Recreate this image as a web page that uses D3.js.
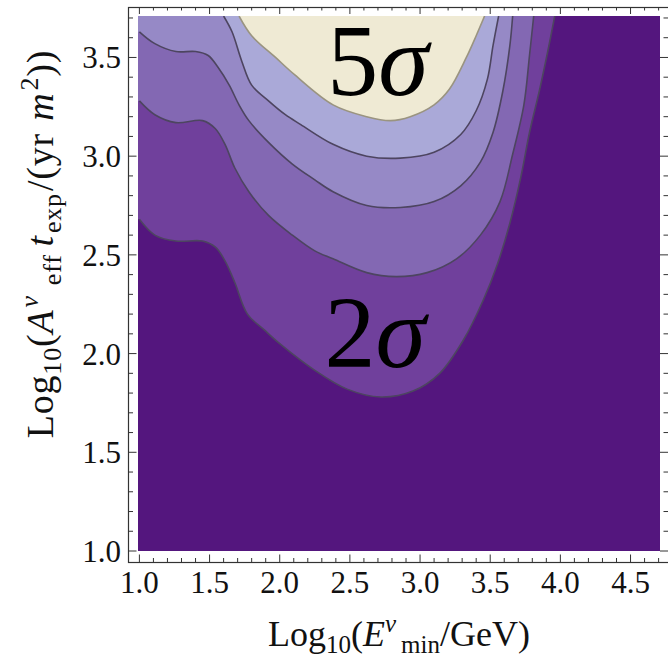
<!DOCTYPE html>
<html>
<head>
<meta charset="utf-8">
<script src="https://cdn.jsdelivr.net/npm/d3@7"></script>
<style>
body { margin: 0; background: #fff; }
svg { display: block; font-family: "Liberation Serif", "Times New Roman", serif; }
</style>
</head>
<body>
<svg width="668" height="658"></svg>
<script>
// contour boundaries, [log10 E, log10 A*t]
const contour1 = [[1.0,2.68],[1.11,2.60],[1.26,2.57],[1.45,2.57],[1.54,2.54],[1.61,2.47],[1.68,2.36],[1.77,2.20],[1.89,2.12],[2.0,2.05],[2.24,1.92],[2.48,1.82],[2.72,1.78],[2.95,1.81],[3.14,1.90],[3.31,2.07],[3.45,2.27],[3.55,2.45],[3.64,2.66],[3.72,2.90],[3.78,3.12],[3.85,3.33],[3.91,3.53],[3.96,3.71]];
const contour2 = [[1.0,3.28],[1.11,3.21],[1.26,3.17],[1.45,3.18],[1.54,3.14],[1.61,3.06],[1.68,2.94],[1.78,2.82],[1.92,2.70],[2.09,2.60],[2.25,2.52],[2.38,2.48],[2.62,2.41],[2.83,2.39],[3.05,2.41],[3.26,2.48],[3.43,2.60],[3.57,2.77],[3.66,3.01],[3.74,3.26],[3.78,3.51],[3.81,3.71]];
const contour3 = [[1.0,3.63],[1.11,3.57],[1.26,3.53],[1.40,3.53],[1.49,3.51],[1.56,3.45],[1.64,3.36],[1.71,3.26],[1.78,3.18],[1.92,3.07],[2.09,2.96],[2.25,2.88],[2.38,2.82],[2.62,2.75],[2.86,2.74],[3.10,2.77],[3.29,2.85],[3.43,2.97],[3.52,3.12],[3.59,3.33],[3.64,3.56],[3.66,3.71]];
const contour4 = [[1.60,3.71],[1.66,3.63],[1.73,3.48],[1.80,3.36],[1.92,3.28],[2.04,3.21],[2.15,3.16],[2.38,3.06],[2.62,3.00],[2.86,2.99],[3.10,3.02],[3.29,3.11],[3.40,3.23],[3.48,3.39],[3.52,3.56],[3.56,3.71]];
const contour5 = [[1.71,3.71],[1.80,3.61],[1.97,3.50],[2.11,3.41],[2.38,3.26],[2.62,3.20],[2.79,3.18],[2.93,3.20],[3.10,3.26],[3.21,3.34],[3.33,3.50],[3.40,3.61],[3.46,3.71]];

const contours = [contour1, contour2, contour3, contour4, contour5];
const bandColors = ["#54167e", "#70409c", "#8368b3", "#9689c6", "#aaa9d8", "#efead4"];
const lineColors = ["#4d4560", "#4d4560", "#4d4560", "#4d4560", "#9a9480"];

const xTicks = [1.0, 1.5, 2.0, 2.5, 3.0, 3.5, 4.0, 4.5];
const yTicks = [1.0, 1.5, 2.0, 2.5, 3.0, 3.5];
const sigmaLabels = [["5", 2.70, 3.31], ["2", 2.68, 1.93]];

var svg = d3.select("svg");

const x = d3.scaleLinear().domain([0.99, 4.71]).range([138, 660]);
const y = d3.scaleLinear().domain([1.0, 3.71]).range([551, 16]);
const fmt = d3.format(".1f");

const frame = { left: 128.5, right: 669, top: 7.5, bottom: 562.5 };

svg.append("clipPath").attr("id", "plot")
	.append("rect")
	.attr("x", x(0.99)).attr("y", y(3.71))
	.attr("width", x(4.71) - x(0.99)).attr("height", y(1.0) - y(3.71));

const g = svg.append("g").attr("clip-path", "url(#plot)");

g.append("rect")
	.attr("x", x(0.99)).attr("y", y(3.71))
	.attr("width", x(4.71) - x(0.99)).attr("height", y(1.0) - y(3.71))
	.attr("fill", bandColors[0]);

const line = d3.line()
	.x(d => x(d[0]))
	.y(d => y(d[1]))
	.curve(d3.curveCatmullRom.alpha(0.5));

// region above each contour, closed along the top (and left) edge
g.selectAll("path.band")
	.data(contours)
	.join("path")
	.attr("class", "band")
	.attr("fill", (d, i) => bandColors[i + 1])
	.attr("d", d => {
		let p = line(d);
		if (d[0][0] <= 1.0) p += "L" + x(0.99) + "," + y(3.71) + "L" + x(0.99) + "," + y(d[0][1]);
		return p + "Z";
	});

g.selectAll("path.contour")
	.data(contours)
	.join("path")
	.attr("class", "contour")
	.attr("fill", "none")
	.attr("stroke", (d, i) => lineColors[i])
	.attr("stroke-width", 1.6)
	.attr("d", line);

// frame with ticks on all four sides
svg.append("rect")
	.attr("x", frame.left).attr("y", frame.top)
	.attr("width", frame.right - frame.left).attr("height", frame.bottom - frame.top)
	.attr("fill", "none").attr("stroke", "#333").attr("stroke-width", 1.2);

const xMinor = d3.range(10, 48).map(v => v / 10);
const yMinor = d3.range(10, 38).map(v => v / 10);
const tickLen = v => (Math.round(v * 10) % 5 == 0 ? 8 : 4.5);

const ticks = svg.append("g").attr("stroke", "#333").attr("stroke-width", 1);

ticks.selectAll("line.xb").data(xMinor).join("line")
	.attr("x1", d => x(d)).attr("x2", d => x(d))
	.attr("y1", frame.bottom).attr("y2", d => frame.bottom - tickLen(d));
ticks.selectAll("line.xt").data(xMinor).join("line")
	.attr("x1", d => x(d)).attr("x2", d => x(d))
	.attr("y1", frame.top).attr("y2", d => frame.top + tickLen(d) - 1.5);
ticks.selectAll("line.yl").data(yMinor).join("line")
	.attr("y1", d => y(d)).attr("y2", d => y(d))
	.attr("x1", frame.left).attr("x2", d => frame.left + tickLen(d));
ticks.selectAll("line.yr").data(yMinor).join("line")
	.attr("y1", d => y(d)).attr("y2", d => y(d))
	.attr("x1", frame.right).attr("x2", d => frame.right - tickLen(d) - 1);

svg.append("g").selectAll("text").data(xTicks).join("text")
	.attr("x", d => x(d)).attr("y", 593)
	.attr("text-anchor", "middle")
	.attr("font-size", 31).attr("fill", "#111")
	.text(fmt);

svg.append("g").selectAll("text").data(yTicks).join("text")
	.attr("x", 121).attr("y", d => y(d) + 11)
	.attr("text-anchor", "end")
	.attr("font-size", 31).attr("fill", "#111")
	.text(fmt);

// axis titles
const xt = svg.append("text")
	.attr("x", 399).attr("y", 646)
	.attr("text-anchor", "middle").attr("font-size", 36).attr("fill", "#111");
xt.append("tspan").text("Log");
xt.append("tspan").attr("font-size", 25).attr("dy", 7).text("10");
xt.append("tspan").attr("dy", -7).text("(");
xt.append("tspan").attr("font-style", "italic").text("E");
xt.append("tspan").attr("font-style", "italic").attr("font-size", 25).attr("dy", -14).text("ν");
xt.append("tspan").attr("font-size", 25).attr("dy", 21).attr("dx", 5).text("min");
xt.append("tspan").attr("dy", -7).text("/GeV)");

const yt = svg.append("text")
	.attr("transform", "translate(53,244) rotate(-90)")
	.attr("text-anchor", "middle").attr("font-size", 38).attr("fill", "#111")
	.attr("letter-spacing", 0.8);
yt.append("tspan").text("Log");
yt.append("tspan").attr("font-size", 26).attr("dy", 8).text("10");
yt.append("tspan").attr("dy", -8).text("(");
yt.append("tspan").attr("font-style", "italic").text("A");
yt.append("tspan").attr("font-style", "italic").attr("font-size", 26).attr("dy", -15).attr("dx", 2).text("ν");
yt.append("tspan").attr("font-size", 26).attr("dy", 23).attr("dx", 10).text("eff");
yt.append("tspan").attr("font-style", "italic").attr("dy", -8).attr("dx", 8).text("t");
yt.append("tspan").attr("font-size", 26).attr("dy", 8).attr("dx", 2).text("exp");
yt.append("tspan").attr("dy", -8).attr("dx", 2).text("/(yr ");
yt.append("tspan").attr("font-style", "italic").attr("dx", 2).text("m");
yt.append("tspan").attr("font-size", 26).attr("dy", -15).attr("dx", 2).text("2");
yt.append("tspan").attr("dy", 15).text("))");

// sigma annotations
const sl = svg.append("g").selectAll("text").data(sigmaLabels).join("text")
	.attr("x", d => x(d[1])).attr("y", d => y(d[2]))
	.attr("text-anchor", "middle").attr("font-size", 102).attr("fill", "#000");
sl.append("tspan").text(d => d[0]);
sl.append("tspan").attr("font-style", "italic").text("σ");
</script>
</body>
</html>
